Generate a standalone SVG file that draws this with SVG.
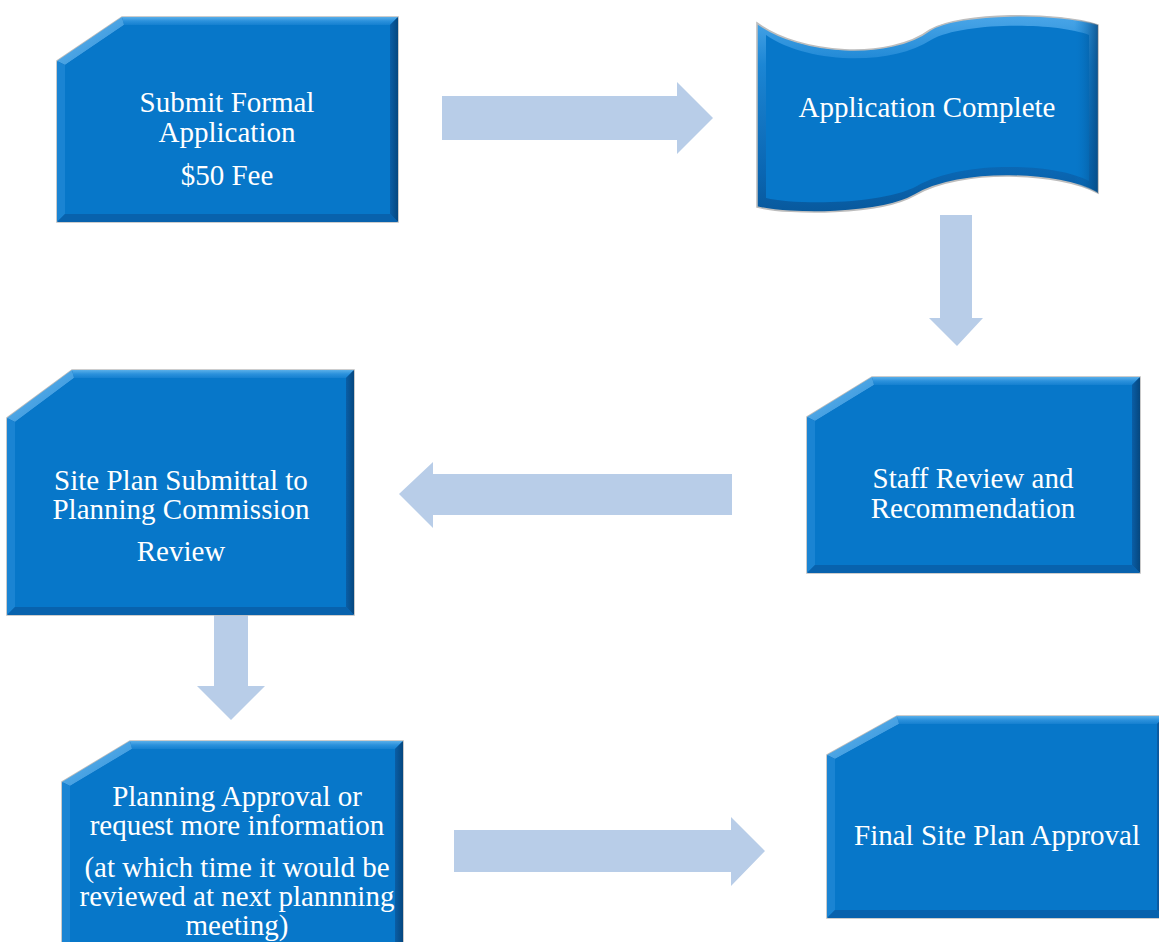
<svg xmlns="http://www.w3.org/2000/svg" width="1159" height="942" viewBox="0 0 1159 942">
<defs>
<style>
.outer{fill:#0b6cbb;stroke:#bdbdbd;stroke-width:1.6}
.top{fill:url(#gTop)}
.cham{fill:url(#gCham)}
.left{fill:#1a84d3}
.right{fill:url(#gRight)}
.bottom{fill:#0862ad}
.face{fill:#0777c9}
.lbl{font-family:"Liberation Serif","Times New Roman",serif;font-size:29px;fill:#ffffff;text-anchor:middle}
.arrow{fill:#b8cde8}
</style>
<linearGradient id="gTop" x1="0" y1="0" x2="0" y2="1">
<stop offset="0" stop-color="#5aafe9"/><stop offset="0.5" stop-color="#2b91dc"/><stop offset="1" stop-color="#1580d0"/>
</linearGradient>
<linearGradient id="gCham" x1="0" y1="0" x2="1" y2="1">
<stop offset="0" stop-color="#6bb8ec"/><stop offset="1" stop-color="#2a8fdb"/>
</linearGradient>
<linearGradient id="gRight" x1="0" y1="0" x2="1" y2="0">
<stop offset="0" stop-color="#0a5ea6"/><stop offset="1" stop-color="#05477f"/>
</linearGradient>
<linearGradient id="gWave" x1="0" y1="0" x2="0" y2="1">
<stop offset="0" stop-color="#4aa6e8"/><stop offset="0.25" stop-color="#1c86d4"/><stop offset="0.8" stop-color="#0a66b2"/><stop offset="1" stop-color="#08599d"/>
</linearGradient>
<linearGradient id="gWaveR" x1="0" y1="0" x2="1" y2="0">
<stop offset="0" stop-color="#0777c9" stop-opacity="0"/><stop offset="0.93" stop-color="#0777c9" stop-opacity="0"/><stop offset="1" stop-color="#05477f" stop-opacity="0.8"/>
</linearGradient>
</defs>
<rect width="1159" height="942" fill="#ffffff"/>

<g id="connectors">
<polygon class="arrow" points="442,96 677,96 677,82 713,118 677,154 677,140 442,140"/>
<polygon class="arrow" points="940,215 972,215 972,318 983,318 957,346 929,318 940,318"/>
<polygon class="arrow" points="732,474 433,474 433,462 399,494 433,528 433,515 732,515"/>
<polygon class="arrow" points="214,615 248,615 248,686 265,686 231,720 197,686 214,686"/>
<polygon class="arrow" points="454,830 731,830 731,817 765,851 731,886 731,872 454,872"/>
</g>

<g id="node-submit">
<polygon class="outer" points="57,61 122,17 398,17 398,222 57,222"/>
<polygon class="top" points="122,17 398,17 390,25 124,25"/>
<polygon class="cham" points="57,61 122,17 124,25 65,65"/>
<polygon class="left" points="57,61 65,65 65,214 57,222"/>
<polygon class="right" points="398,17 398,222 390,214 390,25"/>
<polygon class="bottom" points="57,222 398,222 390,214 65,214"/>
<polygon class="face" points="65,65 124,25 390,25 390,214 65,214"/>
<text class="lbl" x="227" y="112">Submit Formal</text>
<text class="lbl" x="227" y="142">Application</text>
<text class="lbl" x="227" y="185">$50 Fee</text>
</g>

<g id="node-complete">
<path d="M757,23 C800,55 890,60 930,30 C960,12 1060,12 1098,25 L1098,193 C1060,172 960,168 915,195 C880,215 790,215 757,207 Z" fill="url(#gWave)" stroke="#bdbdbd" stroke-width="1.6"/>
<path d="M766,35 C805,63 890,67 931,40 C962,22 1055,22 1089,35 L1089,181 C1055,163 962,160 917,186 C882,205 795,205 766,198 Z" class="face"/>
<path d="M757,23 C800,55 890,60 930,30 C960,12 1060,12 1098,25 L1098,193 C1060,172 960,168 915,195 C880,215 790,215 757,207 Z" fill="url(#gWaveR)"/>
<text class="lbl" x="927" y="117">Application Complete</text>
</g>

<g id="node-staff">
<polygon class="outer" points="807,417 872,377 1140,377 1140,573 807,573"/>
<polygon class="top" points="872,377 1140,377 1132,385 874,385"/>
<polygon class="cham" points="807,417 872,377 874,385 815,421"/>
<polygon class="left" points="807,417 815,421 815,565 807,573"/>
<polygon class="right" points="1140,377 1140,573 1132,565 1132,385"/>
<polygon class="bottom" points="807,573 1140,573 1132,565 815,565"/>
<polygon class="face" points="815,421 874,385 1132,385 1132,565 815,565"/>
<text class="lbl" x="973" y="488">Staff Review and</text>
<text class="lbl" x="973" y="518">Recommendation</text>
</g>

<g id="node-siteplan">
<polygon class="outer" points="7,418 72,370 354,370 354,615 7,615"/>
<polygon class="top" points="72,370 354,370 346,378 74,378"/>
<polygon class="cham" points="7,418 72,370 74,378 15,422"/>
<polygon class="left" points="7,418 15,422 15,607 7,615"/>
<polygon class="right" points="354,370 354,615 346,607 346,378"/>
<polygon class="bottom" points="7,615 354,615 346,607 15,607"/>
<polygon class="face" points="15,422 74,378 346,378 346,607 15,607"/>
<text class="lbl" x="181" y="490">Site Plan Submittal to</text>
<text class="lbl" x="181" y="519">Planning Commission</text>
<text class="lbl" x="181" y="561">Review</text>
</g>

<g id="node-approval">
<polygon class="outer" points="62,782 130,741 403,741 403,960 62,960"/>
<polygon class="top" points="130,741 403,741 395,749 132,749"/>
<polygon class="cham" points="62,782 130,741 132,749 70,786"/>
<polygon class="left" points="62,782 70,786 70,952 62,960"/>
<polygon class="right" points="403,741 403,960 395,952 395,749"/>
<polygon class="face" points="70,786 132,749 395,749 395,952 70,952"/>
<text class="lbl" x="237" y="806">Planning Approval or</text>
<text class="lbl" x="237" y="835">request more information</text>
<text class="lbl" x="237" y="877">(at which time it would be</text>
<text class="lbl" x="237" y="906">reviewed at next plannning</text>
<text class="lbl" x="237" y="935">meeting)</text>
</g>

<g id="node-final">
<polygon class="outer" points="827,755 897,716 1165,716 1165,918 827,918"/>
<polygon class="top" points="897,716 1165,716 1157,724 899,724"/>
<polygon class="cham" points="827,755 897,716 899,724 835,759"/>
<polygon class="left" points="827,755 835,759 835,910 827,918"/>
<polygon class="right" points="1165,716 1165,918 1157,910 1157,724"/>
<polygon class="bottom" points="827,918 1165,918 1157,910 835,910"/>
<polygon class="face" points="835,759 899,724 1157,724 1157,910 835,910"/>
<text class="lbl" x="997" y="845">Final Site Plan Approval</text>
</g>
</svg>
